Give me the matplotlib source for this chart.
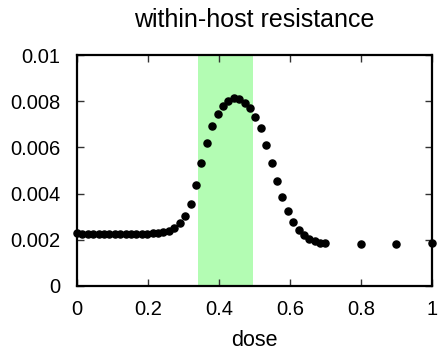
import matplotlib
matplotlib.use('Agg')
import matplotlib.pyplot as plt

# dense part of the dose scan (0 .. 0.7)
dose = [0.000, 0.015, 0.030, 0.046, 0.061, 0.076, 0.091, 0.107, 0.122, 0.137,
        0.152, 0.167, 0.183, 0.198, 0.213, 0.228, 0.243, 0.259, 0.274, 0.289,
        0.304, 0.320, 0.335, 0.350, 0.365, 0.380, 0.396, 0.411, 0.426, 0.441,
        0.457, 0.472, 0.487, 0.502, 0.517, 0.533, 0.548, 0.563, 0.578, 0.593,
        0.609, 0.624, 0.639, 0.654, 0.670, 0.685, 0.700,
        0.8, 0.9, 1.0]
resistance = [0.00229, 0.00225, 0.00225, 0.00224, 0.00224, 0.00224, 0.00224, 0.00224,
              0.00224, 0.00224, 0.00225, 0.00225, 0.00226, 0.00226, 0.00228, 0.00230,
              0.00233, 0.00239, 0.00250, 0.00272, 0.00302, 0.00357, 0.00439, 0.00531,
              0.00618, 0.00693, 0.00744, 0.00780, 0.00801, 0.00812, 0.00810, 0.00794,
              0.00770, 0.00732, 0.00682, 0.00609, 0.00531, 0.00453, 0.00385, 0.00323,
              0.00275, 0.00243, 0.00219, 0.00204, 0.00194, 0.00188, 0.00184,
              0.00183, 0.00180, 0.00184]

band = (0.34, 0.495)
xticks = [0, 0.2, 0.4, 0.6, 0.8, 1]
xtick_labels = ['0', '0.2', '0.4', '0.6', '0.8', '1']
yticks = [0, 0.002, 0.004, 0.006, 0.008, 0.01]
ytick_labels = ['0', '0.002', '0.004', '0.006', '0.008', '0.01']

plt.rcParams['font.family'] = ['Liberation Sans', 'DejaVu Sans']

fig = plt.figure(figsize=(4.39, 3.53), dpi=100)
ax = fig.add_axes([0.1754, 0.190, 0.8086, 0.654])

ax.axvspan(band[0], band[1], color='#b3fcb3', lw=0, zorder=0)
ax.scatter(dose, resistance, s=26, color='black', zorder=3, clip_on=False)

ax.set_xlim(0, 1)
ax.set_ylim(0, 0.01)
ax.set_xticks(xticks)
ax.set_xticklabels(xtick_labels)
ax.set_yticks(yticks)
ax.set_yticklabels(ytick_labels)
ax.tick_params(direction='in', length=5, width=1, top=True, right=True,
               labelsize=14.5, color='#333333')
ax.tick_params(axis='x', pad=10)
ax.tick_params(axis='y', pad=12)
for sp in ax.spines.values():
    sp.set_linewidth(1.6)

ax.set_xlabel('dose', fontsize=15.5, labelpad=8)
ax.set_title('within-host resistance', fontsize=18, pad=20)

fig.savefig('out.png', dpi=100)
